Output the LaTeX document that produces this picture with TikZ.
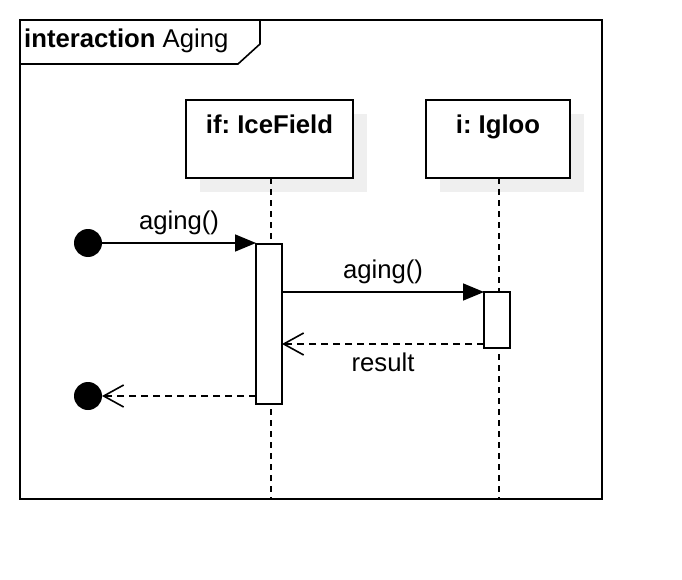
\documentclass[tikz,border=0pt]{standalone}
\usepackage{fontspec}
\setmainfont{Liberation Sans}
\usepackage{xcolor}
\usepackage{tikz}
\usetikzlibrary{%
    arrows.meta,%
    shadows,%
    positioning%
}
\definecolor{shadowgray}{HTML}{EFEFEF}
\frenchspacing

\begin{document}
\begin{tikzpicture}[
        x=1pt, y=-1pt,
        media/.style={font={\fontsize{25.7}{30}\selectfont}, inner sep=0pt},
        boldmedia/.style={font={\fontsize{25.7}{30}\selectfont\bfseries}, inner sep=0pt},
        line/.style={draw=black, line width=1.6pt},
        lifebox/.style={line, fill=white, minimum width=167pt, minimum height=78pt,
            inner sep=0pt, outer sep=0pt, general shadow={shadow xshift=14pt,
            shadow yshift=-14pt, fill=shadowgray, draw=none}},
        actbox/.style={line, fill=white, minimum width=26pt, inner sep=0pt,
            outer sep=0pt, anchor=north},
        lifeline/.style={line, line width=1.9pt, dash pattern=on 6pt off 5pt},
        dot/.style={circle, fill=black, minimum size=28pt, inner sep=0pt, outer sep=0pt},
        call/.style={line, -{Triangle[length=21pt,width=17pt]}},
        reply/.style={line, dash pattern=on 7pt off 5pt,
            -{Straight Barb[length=20pt,width=22pt,line width=1.6pt]}},
        ]
        \useasboundingbox (0,0) rectangle (682,580);

        % frame
        \node[line, minimum width=582pt, minimum height=479pt, inner sep=0pt,
            outer sep=0pt, anchor=north west] (frame) at (20,20) {};
        \draw[line] (frame.north west) -- ++(240,0) -- ++(0,24) -- ++(-22,20)
            -- (frame.north west |- 0,64);
        \node[media, anchor=west] (title) at (24,41) {\textbf{interaction} Aging};

        % lifeline heads
        \node[lifebox] (ifbox) at (269.5,139) {};
        \node[boldmedia, below=15pt of ifbox.north] (iftitle) {if: IceField};
        \node[lifebox, minimum width=144pt] (igloobox) at (498,139) {};
        \node[boldmedia, below=15pt of igloobox.north] (iglootitle) {i: Igloo};

        % lifelines
        \draw[lifeline] ([xshift=1.5pt]ifbox.south) -- ([xshift=1.5pt]ifbox.south |- frame.south);
        \draw[lifeline] ([xshift=1pt]igloobox.south) -- ([xshift=1pt]igloobox.south |- frame.south);

        % activations
        \node[actbox, minimum height=160pt] (actif) at (269,244) {};
        \node[actbox, minimum height=56pt] (actigloo) at (497,292) {};

        % found and lost ends
        \node[dot] (startdot) at (88,243) {};
        \node[dot] (enddot) at (88,396) {};

        % messages
        \draw[call] (startdot) -- (startdot -| actif.west)
            node[media, midway, above=7pt] (call1) {aging()};
        \draw[call] (actigloo.north west -| actif.east) -- (actigloo.north west)
            node[media, midway, above=7pt] (call2) {aging()};
        \coordinate (ret1) at ([yshift=4pt]actigloo.south west);
        \draw[reply] (ret1) -- (ret1 -| actif.east)
            node[media, midway, below=8pt] (ret1lbl) {result};
        \coordinate (ret2) at ([yshift=8pt]actif.south west);
        \draw[reply] (ret2) -- (enddot);
    \end{tikzpicture}
\end{document}
